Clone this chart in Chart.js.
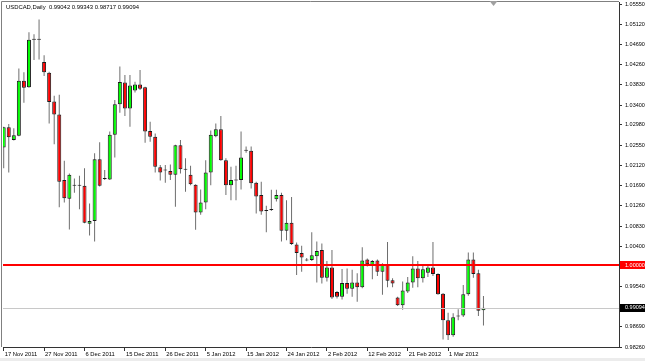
<!DOCTYPE html>
<html>
<head>
<meta charset="utf-8">
<script src="https://cdn.jsdelivr.net/npm/chart.js@4.4.1/dist/chart.umd.min.js"></script>
<style>
  html, body { margin: 0; padding: 0; background: #fff; }
  #wrap { width: 645px; height: 361px; }
</style>
</head>
<body>
<div id="wrap"><canvas id="usdcad" width="645" height="361"></canvas></div>
<script>
const symbol = 'USDCAD,Daily';

// daily bars, oldest first (one row = 8 bars = one date label)
const openP = [
  1.0250, 1.0293, 1.0266, 1.0275, 1.0392, 1.0378, 1.0480, 1.0479,
  1.0432, 1.0409, 1.0348, 1.0320, 1.0181, 1.0141, 1.0169, 1.0171,
  1.0169, 1.0088, 1.0094, 1.0225, 1.0184, 1.0182, 1.0277, 1.0342,
  1.0388, 1.0333, 1.0371, 1.0384, 1.0378, 1.0285, 1.0273, 1.0208,
  1.0203, 1.0200, 1.0192, 1.0255, 1.0204, 1.0192, 1.0171, 1.0112,
  1.0133, 1.0197, 1.0274, 1.0289, 1.0223, 1.0170, 1.0181, 1.0181,
  1.0243, 1.0243, 1.0175, 1.0149, 1.0116, 1.0117, 1.0140, 1.0149,
  1.0073, 1.0090, 1.0044, 1.0026, 1.0012, 1.0011, 1.0019, 1.0032,
  0.9973, 0.9995, 0.9943, 0.9933, 0.9962, 0.9950, 0.9963, 0.9953,
  1.0012, 1.0000, 1.0010, 0.9986, 1.0002, 0.9968, 0.9931, 0.9915,
  0.9944, 0.9963, 0.9993, 0.9972, 0.9984, 0.9995, 0.9981, 0.9939,
  0.9883, 0.9851, 0.9891, 0.9893, 0.9938, 1.0012, 0.9983, 0.99042
];
const highP = [
  1.0294, 1.0300, 1.0291, 1.0418, 1.0410, 1.0495, 1.0491, 1.0522,
  1.0446, 1.0411, 1.0360, 1.0362, 1.0222, 1.0195, 1.0184, 1.0190,
  1.0206, 1.0131, 1.0238, 1.0261, 1.0202, 1.0284, 1.0351, 1.0422,
  1.0404, 1.0404, 1.0390, 1.0415, 1.0379, 1.0305, 1.0280, 1.0213,
  1.0213, 1.0214, 1.0256, 1.0266, 1.0227, 1.0211, 1.0172, 1.0161,
  1.0223, 1.0286, 1.0301, 1.0317, 1.0227, 1.0209, 1.0211, 1.0284,
  1.0252, 1.0252, 1.0177, 1.0177, 1.0126, 1.0160, 1.0160, 1.0154,
  1.0138, 1.0145, 1.0048, 1.0041, 1.0015, 1.0070, 1.0050, 1.0046,
  1.0009, 1.0032, 0.9945, 0.9992, 0.9993, 0.9990, 0.9983, 1.0038,
  1.0014, 1.0011, 1.0012, 1.0004, 1.0049, 0.9972, 0.9933, 0.9965,
  0.9975, 1.0019, 1.0009, 1.0002, 0.9998, 1.0049, 0.9983, 0.9941,
  0.9899, 0.9898, 0.9906, 0.9958, 1.0027, 1.0027, 0.9990, 0.99343
];
const lowP = [
  1.0206, 1.0197, 1.0265, 1.0274, 1.0345, 1.0377, 1.0436, 1.0437,
  1.0402, 1.0301, 1.0257, 1.0123, 1.0133, 1.0076, 1.0154, 1.0119,
  1.0089, 1.0063, 1.0050, 1.0167, 1.0181, 1.0181, 1.0229, 1.0324,
  1.0317, 1.0294, 1.0367, 1.0372, 1.0260, 1.0262, 1.0197, 1.0180,
  1.0175, 1.0181, 1.0124, 1.0195, 1.0156, 1.0170, 1.0075, 1.0107,
  1.0119, 1.0170, 1.0272, 1.0222, 1.0149, 1.0138, 1.0138, 1.0161,
  1.0239, 1.0163, 1.0110, 1.0107, 1.0070, 1.0115, 1.0135, 1.0050,
  1.0053, 1.0043, 0.9979, 0.9986, 1.0008, 1.0009, 0.9963, 0.9961,
  0.9965, 0.9928, 0.9929, 0.9927, 0.9939, 0.9933, 0.9922, 0.9951,
  0.9997, 0.9970, 0.9977, 0.9937, 0.9953, 0.9953, 0.9913, 0.9905,
  0.9941, 0.9952, 0.9953, 0.9963, 0.9975, 0.9977, 0.9937, 0.9842,
  0.9841, 0.9848, 0.9883, 0.9890, 0.9935, 0.9973, 0.9892, 0.98717
];
const closeP = [
  1.0293, 1.0272, 1.0276, 1.0392, 1.0377, 1.0479, 1.0479, 1.0481,
  1.0410, 1.0347, 1.0320, 1.0177, 1.0142, 1.0192, 1.0171, 1.0169,
  1.0090, 1.0094, 1.0225, 1.0169, 1.0183, 1.0277, 1.0342, 1.0389,
  1.0333, 1.0382, 1.0384, 1.0375, 1.0284, 1.0273, 1.0209, 1.0197,
  1.0201, 1.0192, 1.0255, 1.0204, 1.0203, 1.0172, 1.0112, 1.0133,
  1.0197, 1.0277, 1.0289, 1.0223, 1.0170, 1.0181, 1.0180, 1.0229,
  1.0244, 1.0174, 1.0146, 1.0114, 1.0115, 1.0119, 1.0149, 1.0073,
  1.0090, 1.0045, 1.0026, 1.0016, 1.0010, 1.0021, 1.0030, 0.9973,
  0.9995, 0.9931, 0.9933, 0.9962, 0.9950, 0.9963, 0.9953, 1.0010,
  1.0002, 1.0009, 0.9986, 1.0002, 0.9967, 0.9961, 0.9915, 0.9946,
  0.9963, 0.9993, 0.9972, 0.9991, 0.9995, 0.9981, 0.9938, 0.9883,
  0.9851, 0.9889, 0.9893, 0.9938, 1.0012, 0.9981, 0.9903, 0.99094
];

// date labels sit on every 8th bar
const dateIdx = [0, 8, 16, 24, 32, 40, 48, 56, 64, 72, 80, 88];
const dateLabels = ['17 Nov 2011', '27 Nov 2011', '6 Dec 2011', '15 Dec 2011', '26 Dec 2011', '5 Jan 2012',
  '15 Jan 2012', '24 Jan 2012', '2 Feb 2012', '12 Feb 2012', '21 Feb 2012', '1 Mar 2012'];

const priceTicks = [1.0555, 1.0512, 1.0469, 1.0426, 1.0383, 1.0340, 1.0298, 1.0255, 1.0212,
  1.0169, 1.0126, 1.0083, 1.0040, 0.9954, 0.9869, 0.9826];
const levelPrice = 1.0000;
const lastPrice = closeP[closeP.length - 1];

const yMin = 0.9826, yMax = 1.05593;
const xMin = -0.14, xMax = 121.84;

const fontFam = '"Liberation Sans", Arial, sans-serif';

const bodyColors = openP.map((o, i) => closeP[i] >= o ? '#00ff00' : '#ff0000');

// MT4 look: header, level line, bid line, price tags, frame
const mt4Decor = {
    id: 'mt4Decor',
    beforeDraw(chart) {
        const ctx = chart.ctx;
        ctx.save();
        ctx.fillStyle = '#fff';
        ctx.fillRect(0, 0, chart.width, chart.height);
        ctx.fillStyle = '#ececec';
        ctx.fillRect(0, 358, chart.width, 3);
        ctx.restore();
    },
    afterDatasetsDraw(chart) {
        const ctx = chart.ctx;
        const area = chart.chartArea;
        const y = chart.scales.y;
        ctx.save();
        ctx.strokeStyle = '#c8c8c8';
        ctx.lineWidth = 1;
        ctx.beginPath();
        ctx.moveTo(area.left, Math.round(y.getPixelForValue(lastPrice)) + 0.5);
        ctx.lineTo(area.right, Math.round(y.getPixelForValue(lastPrice)) + 0.5);
        ctx.stroke();
        ctx.strokeStyle = '#ff0000';
        ctx.lineWidth = 2;
        ctx.beginPath();
        ctx.moveTo(area.left, Math.round(y.getPixelForValue(levelPrice)));
        ctx.lineTo(area.right, Math.round(y.getPixelForValue(levelPrice)));
        ctx.stroke();
        ctx.restore();
    },
    afterDraw(chart) {
        const ctx = chart.ctx;
        const area = chart.chartArea;
        const y = chart.scales.y;
        const x = chart.scales.x;
        const n = closeP.length - 1;
        ctx.save();

        // frame (left/top)
        ctx.strokeStyle = '#808080';
        ctx.lineWidth = 1;
        ctx.beginPath();
        ctx.moveTo(1.5, area.bottom);
        ctx.lineTo(1.5, 1.5);
        ctx.lineTo(area.right, 1.5);
        ctx.stroke();

        // chart shift marker
        const sx = x.getPixelForValue(closeP.length + 1);
        ctx.fillStyle = '#a0a0a0';
        ctx.beginPath();
        ctx.moveTo(sx - 4, 1);
        ctx.lineTo(sx + 4, 1);
        ctx.lineTo(sx, 6);
        ctx.closePath();
        ctx.fill();

        // header
        ctx.fillStyle = '#000';
        ctx.font = '5.9px ' + fontFam;
        ctx.textBaseline = 'middle';
        ctx.textAlign = 'left';
        const head = symbol + '  ' + [openP[n], highP[n], lowP[n], closeP[n]].map(v => v.toFixed(5)).join(' ');
        ctx.fillText(head, 6, 7.5);

        // price tags
        const tag = (val, bg) => {
            const py = y.getPixelForValue(val);
            ctx.fillStyle = bg;
            ctx.fillRect(area.right + 1, Math.round(py) - 4, chart.width - area.right - 1, 8);
            ctx.fillStyle = '#fff';
            ctx.font = '5.5px ' + fontFam;
            ctx.fillText(val.toFixed(5), area.right + 6, py);
        };
        tag(levelPrice, '#ff0000');
        tag(lastPrice, '#000');
        ctx.restore();
    }
};

new Chart(document.getElementById('usdcad').getContext('2d'), {
    type: 'bar',
    data: {
        datasets: [
            {
                label: 'body',
                data: openP.map((o, i) => ({ x: i, y: [o, closeP[i]] })),
                backgroundColor: bodyColors,
                borderColor: '#1a1a1a',
                borderWidth: 1,
                borderSkipped: false,
                barThickness: 4,
                minBarLength: 1,
                inflateAmount: 0,
                grouped: false,
                order: 1
            },
            {
                label: 'wick',
                data: lowP.map((l, i) => ({ x: i, y: [l, highP[i]] })),
                backgroundColor: '#6e6e6e',
                borderWidth: 0,
                barThickness: 1,
                inflateAmount: 0,
                grouped: false,
                order: 2
            }
        ]
    },
    options: {
        responsive: false,
        animation: false,
        events: [],
        layout: { padding: { left: 3, top: 2, right: 0, bottom: 0 } },
        plugins: {
            legend: { display: false },
            tooltip: { enabled: false }
        },
        scales: {
            x: {
                type: 'linear',
                min: xMin,
                max: xMax,
                offset: false,
                grid: { offset: false, drawOnChartArea: false, drawTicks: true, tickLength: 4, tickColor: '#333' },
                border: { display: true, color: '#333', width: 1 },
                ticks: {
                    autoSkip: false,
                    maxRotation: 0,
                    align: 'start',
                    labelOffset: 1,
                    padding: 0,
                    color: '#000',
                    font: { family: fontFam, size: 5.8 },
                    callback: (v, i) => dateLabels[i]
                },
                afterBuildTicks: s => { s.ticks = dateIdx.map(v => ({ value: v })); },
                afterFit: s => { s.height = 14; s.paddingLeft = 0; s.paddingRight = 0; }
            },
            y: {
                position: 'right',
                min: yMin,
                max: yMax,
                grid: { drawOnChartArea: false, drawTicks: true, tickLength: 3, tickColor: '#333' },
                border: { display: true, color: '#333', width: 1 },
                ticks: {
                    autoSkip: false,
                    padding: 3,
                    color: '#000',
                    font: { family: fontFam, size: 5.5 },
                    callback: v => v.toFixed(5)
                },
                afterBuildTicks: s => { s.ticks = priceTicks.map(v => ({ value: v })); },
                afterFit: s => { s.width = 26; s.paddingTop = 0; s.paddingBottom = 0; }
            }
        }
    },
    plugins: [mt4Decor]
});
</script>
</body>
</html>
